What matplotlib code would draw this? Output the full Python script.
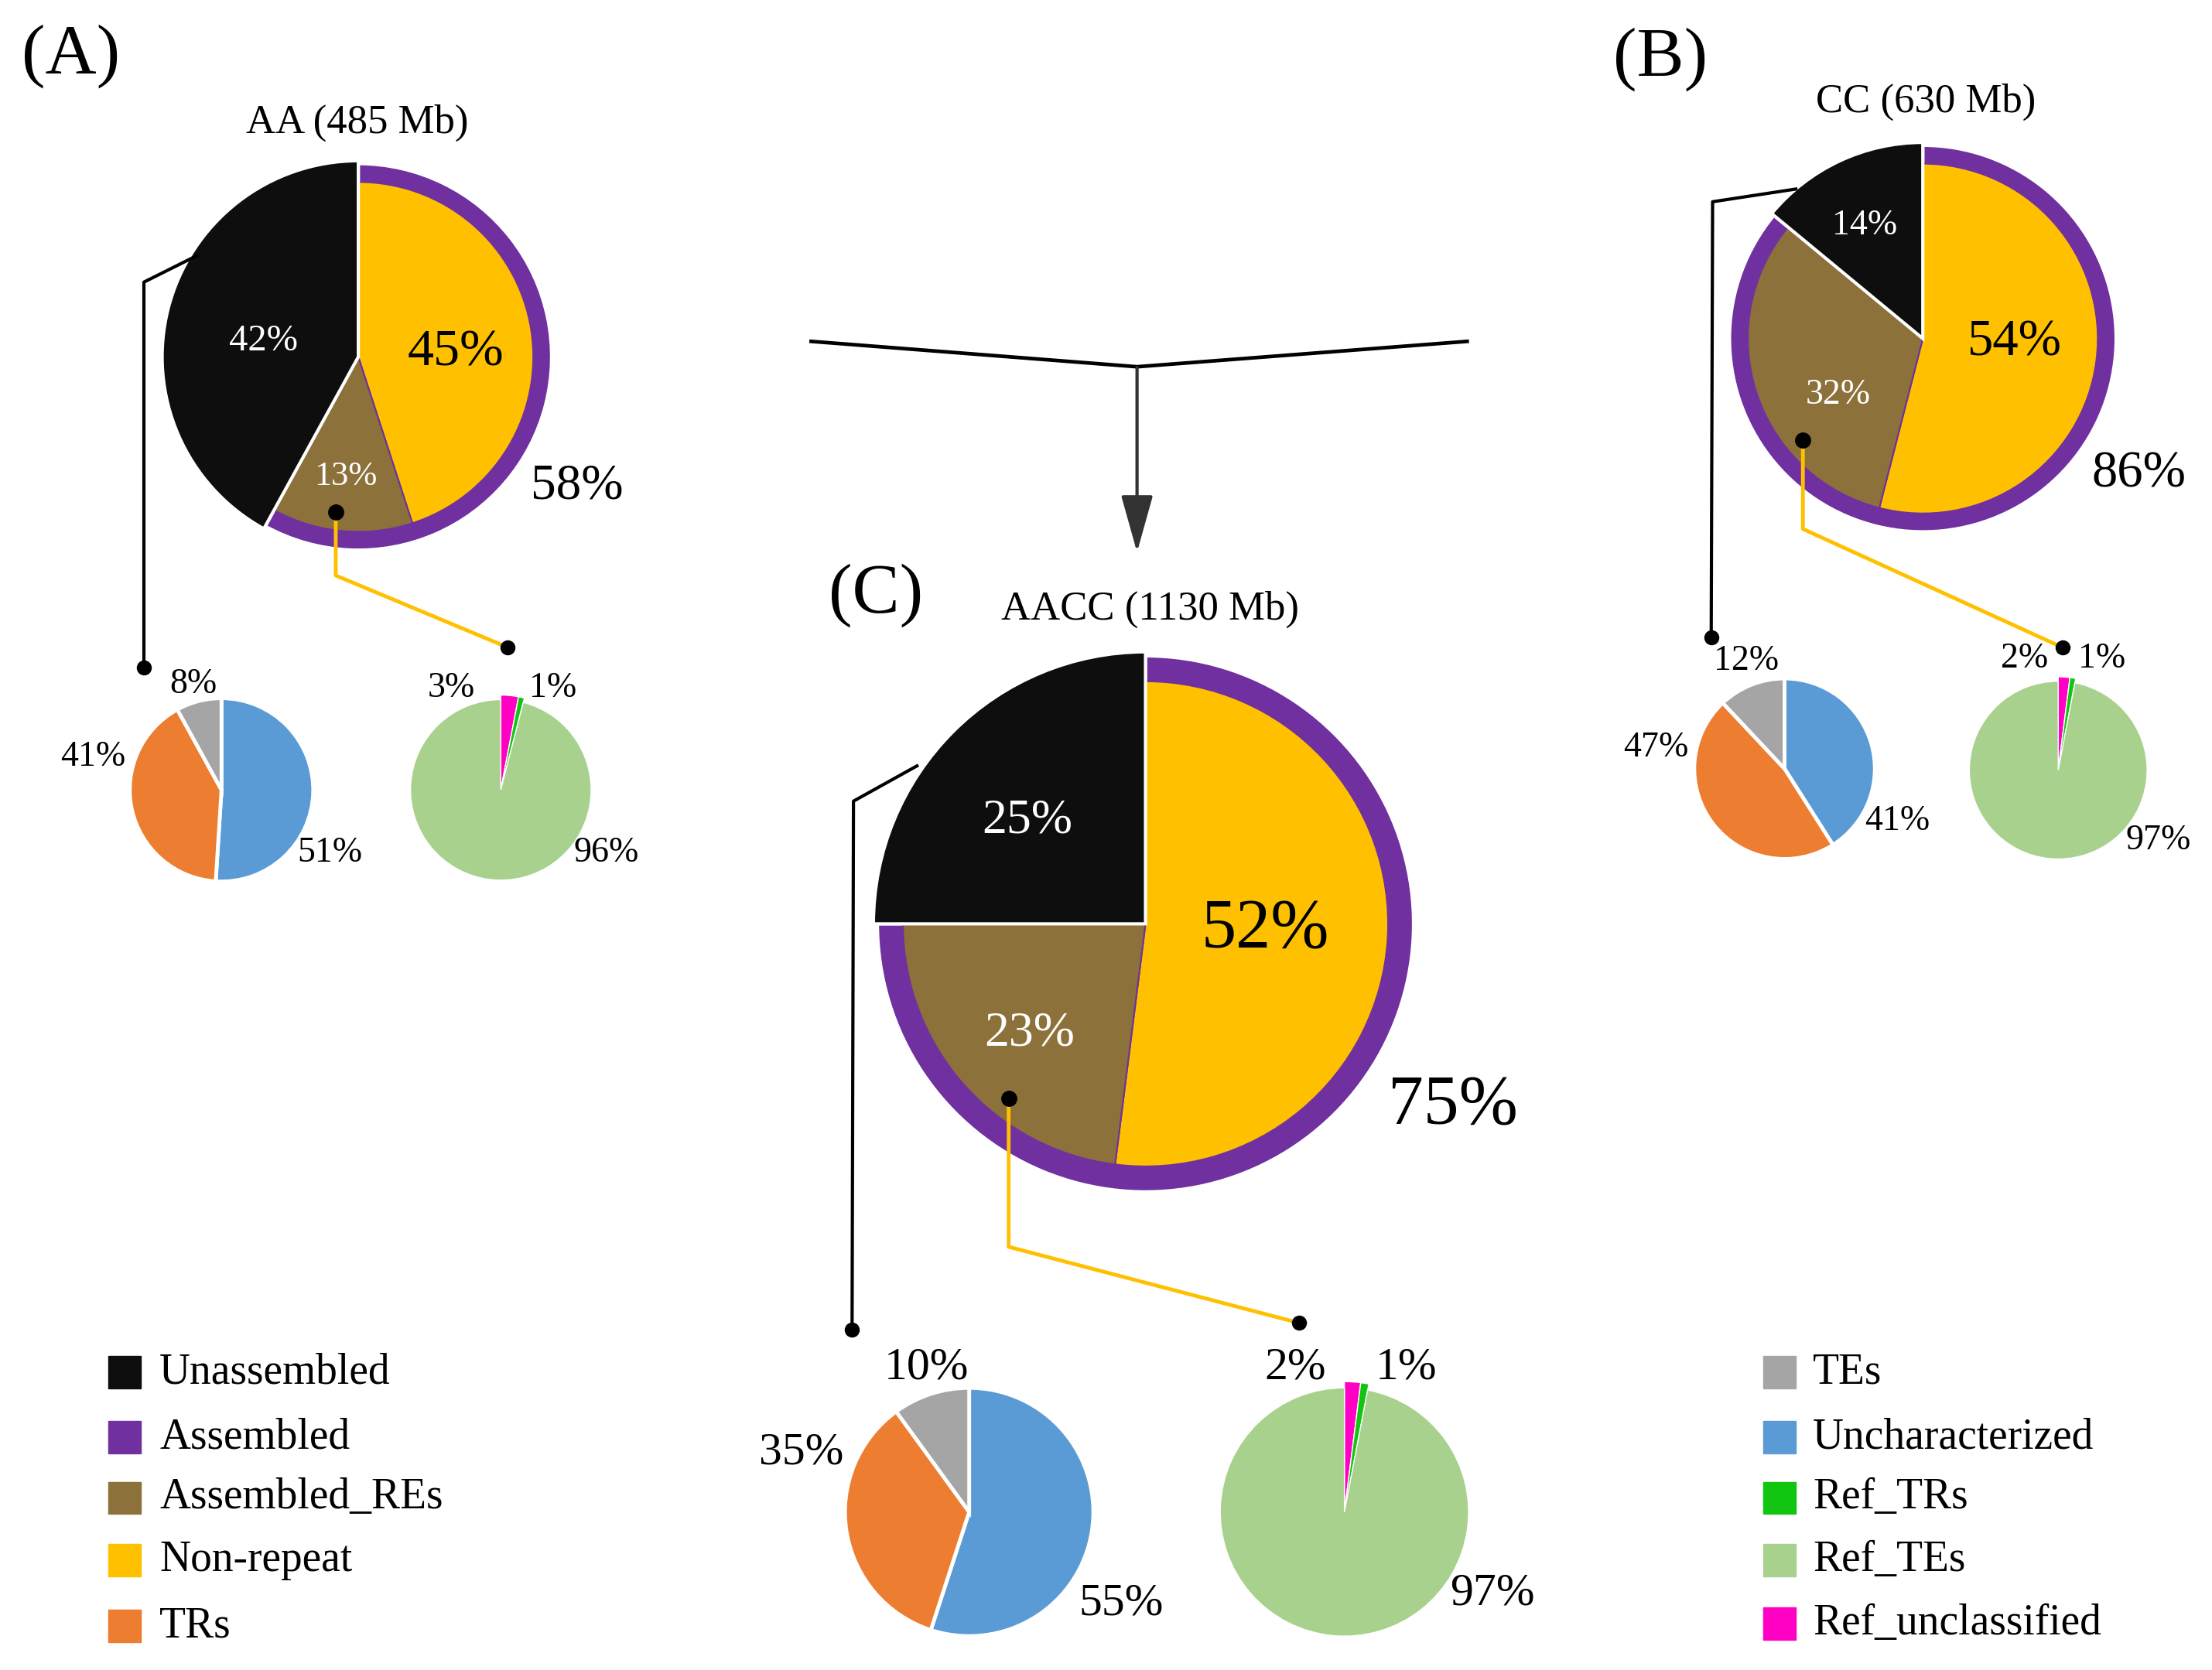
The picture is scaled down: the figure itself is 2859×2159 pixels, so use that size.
import matplotlib
matplotlib.use("Agg")
from matplotlib import pyplot as plt
from matplotlib.patches import Rectangle

# main pies: AA, CC, AACC
GENOMES = ["AA (485 Mb)", "CC (630 Mb)", "AACC (1130 Mb)"]
PANELS = ["(A)", "(B)", "(C)"]
NON_REPEAT = [45, 54, 52]
ASSEMBLED_RES = [13, 32, 23]
UNASSEMBLED = [42, 14, 25]
ASSEMBLED = [58, 86, 75]
# breakdown of the unassembled part
UNCHARACTERIZED = [51, 41, 55]
TRS = [41, 47, 35]
TES = [8, 12, 10]
# breakdown of the assembled repeats
REF_UNCLASSIFIED = [3, 2, 2]
REF_TRS = [1, 1, 1]
REF_TES = [96, 97, 97]

LEGEND_LEFT = ["Unassembled", "Assembled", "Assembled_REs", "Non-repeat", "TRs"]
LEGEND_RIGHT = ["TEs", "Uncharacterized", "Ref_TRs", "Ref_TEs", "Ref_unclassified"]

COLORS = {
    "Unassembled": "#0e0e0e",
    "Assembled": "#7030a0",
    "Assembled_REs": "#8c713a",
    "Non-repeat": "#ffc000",
    "TRs": "#ed7d31",
    "TEs": "#a5a5a5",
    "Uncharacterized": "#5b9bd5",
    "Ref_TRs": "#11c511",
    "Ref_TEs": "#a9d18e",
    "Ref_unclassified": "#ff00c4",
}

W, H = 1568, 1184  # working units (y measured from top)

# layout of each panel, in working units
LAYOUT = [
    dict(center=(254, 253), r=137, title=(253, 87), panel=(50, 40),
         labels=[(323, 250, 49, "k"), (245, 338, 32, "w"), (187, 242, 35, "w")],
         total=(409, 345, 47),
         rep=(157, 560, 65), ref=(355, 560, 64), small_fs=33,
         rep_labels=[(234, 605), (66, 537), (137, 485)],
         ref_labels=[(320, 488), (392, 488), (430, 605)],
         black_line=[(140, 181), (102, 200), (102, 473)],
         yellow_line=[(238, 363), (238, 408), (360, 459)]),
    dict(center=(1363, 240), r=137, title=(1365, 72), panel=(1177, 42),
         labels=[(1428, 243, 48, "k"), (1303, 280, 33, "w"), (1322, 160, 33, "w")],
         total=(1516, 336, 48),
         rep=(1265, 545, 64), ref=(1459, 546, 63), small_fs=33,
         rep_labels=[(1345, 582), (1174, 530), (1238, 469)],
         ref_labels=[(1435, 467), (1490, 467), (1530, 596)],
         black_line=[(1273, 134), (1214, 143), (1213, 452)],
         yellow_line=[(1278, 312), (1278, 375), (1462, 459)]),
    dict(center=(812, 655), r=190, title=(815, 432), panel=(621, 422),
         labels=[(897, 660, 65, "k"), (730, 733, 46, "w"), (728, 582, 46, "w")],
         total=(1030, 785, 66),
         rep=(687, 1072, 88), ref=(953, 1072, 88), small_fs=43,
         rep_labels=[(795, 1137), (568, 1030), (657, 970)],
         ref_labels=[(918, 970), (997, 970), (1058, 1130)],
         black_line=[(650, 543), (605, 568), (604, 943)],
         yellow_line=[(715, 779), (715, 884), (921, 938)]),
]


def main():
    plt.rcParams["font.family"] = ["Liberation Serif", "DejaVu Serif"]
    fig = plt.figure(figsize=(28.59, 21.59), dpi=100)
    ax = fig.add_axes([0, 0, 1, 1])
    for i, lay in enumerate(LAYOUT):
        _main_pie(ax, i, lay)
        _small_pies(ax, i, lay)
        _connectors(ax, lay)
    _arrow(ax)
    _legend(ax, LEGEND_LEFT, 77, 113, [973, 1019, 1062, 1106, 1153])
    _legend(ax, LEGEND_RIGHT, 1250, 1285, [973, 1019, 1062, 1106, 1151])
    ax.set_xlim(0, W)
    ax.set_ylim(0, H)
    ax.set_aspect("equal")
    ax.axis("off")
    fig.savefig("out.png", dpi=100, facecolor="white")


def _xy(x, y):
    return x, H - y


def _text(ax, x, y, s, size, color="black"):
    ax.text(*_xy(x, y), s, fontsize=size, color=color, ha="center", va="center")


def _main_pie(ax, i, lay):
    center = _xy(*lay["center"])
    r = lay["r"]
    outer, _ = ax.pie([ASSEMBLED[i], UNASSEMBLED[i]], center=center, radius=r,
                      startangle=90, counterclock=False,
                      colors=[COLORS["Assembled"], COLORS["Unassembled"]],
                      wedgeprops=dict(edgecolor="white", linewidth=3))
    outer[0].set_zorder(1)
    outer[1].set_zorder(3)
    outer[1].set_radius(r * 1.015)
    inner, _ = ax.pie([NON_REPEAT[i], ASSEMBLED_RES[i], UNASSEMBLED[i]],
                      center=center, radius=r * 0.905,
                      startangle=90, counterclock=False,
                      colors=[COLORS["Non-repeat"], COLORS["Assembled_REs"], "none"],
                      wedgeprops=dict(edgecolor=COLORS["Assembled"], linewidth=1.5))
    for w in inner:
        w.set_zorder(2)
    inner[2].set_visible(False)

    values = [NON_REPEAT[i], ASSEMBLED_RES[i], UNASSEMBLED[i]]
    for v, (x, y, fs, c) in zip(values, lay["labels"]):
        _text(ax, x, y, "%d%%" % v, fs, "white" if c == "w" else "black")
    x, y, fs = lay["total"]
    _text(ax, x, y, "%d%%" % ASSEMBLED[i], fs)
    _text(ax, *lay["title"], GENOMES[i], 38)
    _text(ax, *lay["panel"], PANELS[i], 66)


def _small_pies(ax, i, lay):
    x, y, r = lay["rep"]
    rep = [UNCHARACTERIZED[i], TRS[i], TES[i]]
    ax.pie(rep, center=_xy(x, y), radius=r, startangle=90, counterclock=False,
           colors=[COLORS["Uncharacterized"], COLORS["TRs"], COLORS["TEs"]],
           wedgeprops=dict(edgecolor="white", linewidth=3.5))
    for v, (lx, ly) in zip(rep, lay["rep_labels"]):
        _text(ax, lx, ly, "%d%%" % v, lay["small_fs"])

    x, y, r = lay["ref"]
    ref = [REF_UNCLASSIFIED[i], REF_TRS[i], REF_TES[i]]
    wedges, _ = ax.pie(ref, center=_xy(x, y), radius=r, startangle=90,
                       counterclock=False,
                       colors=[COLORS["Ref_unclassified"], COLORS["Ref_TRs"],
                               COLORS["Ref_TEs"]],
                       wedgeprops=dict(edgecolor="white", linewidth=1))
    # the two thin slices stick out a little
    wedges[0].set_radius(r * 1.05)
    wedges[1].set_radius(r * 1.05)
    for v, (lx, ly) in zip(ref, lay["ref_labels"]):
        _text(ax, lx, ly, "%d%%" % v, lay["small_fs"])


def _connectors(ax, lay):
    pts = [_xy(*p) for p in lay["black_line"]]
    ax.plot([p[0] for p in pts], [p[1] for p in pts], color="black", lw=3,
            zorder=5)
    ax.plot(*pts[-1], "o", color="black", ms=13, zorder=5)
    pts = [_xy(*p) for p in lay["yellow_line"]]
    ax.plot([p[0] for p in pts], [p[1] for p in pts], color="#ffc000", lw=3.5,
            zorder=5)
    ax.plot(*pts[0], "o", color="black", ms=14, zorder=6)
    ax.plot(*pts[-1], "o", color="black", ms=13, zorder=6)


def _arrow(ax):
    pts = [_xy(575, 242), _xy(806, 260), _xy(1040, 242)]
    ax.plot([p[0] for p in pts], [p[1] for p in pts], color="black", lw=3.4)
    ax.annotate("", xy=_xy(806, 393), xytext=_xy(806, 259),
                arrowprops=dict(arrowstyle="-|>,head_length=1.0,head_width=0.28",
                                mutation_scale=46, color="#333333", lw=3))


def _legend(ax, names, x_box, x_text, rows):
    size = 23
    for name, y in zip(names, rows):
        bx, by = _xy(x_box, y + size / 2)
        ax.add_patch(Rectangle((bx, by), size, size, color=COLORS[name]))
        tx, ty = _xy(x_text, y)
        ax.text(tx, ty, name, fontsize=40, ha="left", va="center")


if __name__ == "__main__":
    main()
